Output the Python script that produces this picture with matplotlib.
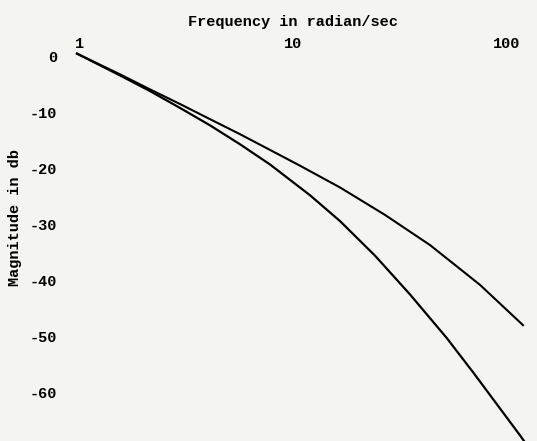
import matplotlib.pyplot as plt

# values
upper_w = [0.968, 1.54, 2.13, 2.94, 4.06, 5.62, 7.76, 10.7, 16.5, 26.8, 43.6, 74.7, 118.8]
upper_db = [0.6, -3.1, -5.8, -8.4, -11.1, -13.8, -16.6, -19.4, -23.3, -28.2, -33.6, -40.7, -47.9]
lower_w = [0.968, 1.54, 2.13, 2.94, 4.06, 5.62, 7.76, 11.95, 16.5, 24.1, 35.1, 52.2, 69.6, 115.1, 122.7]
lower_db = [0.6, -3.3, -6.1, -9.1, -12.2, -15.6, -19.2, -24.7, -29.3, -35.5, -42.4, -50.2, -56.4, -67.6, -69.1]
x_ticks = [1, 10, 100]
x_labels = ["1", "10", "100"]
y_ticks = [0, -10, -20, -30, -40, -50, -60]

bg = "#f4f4f1"
font = dict(family="Liberation Mono", weight="bold", size=11)

fig = plt.figure(figsize=(5.37, 4.41), dpi=100, facecolor=bg)
ax = fig.add_axes([60/537, 0, 477/537, (441-52)/441], facecolor=bg)

ax.plot(upper_w, upper_db, color="black", lw=1.5, solid_joinstyle="round")
ax.plot(lower_w, lower_db, color="black", lw=1.6, solid_joinstyle="round")

ax.set_xscale("log")
ax.set_xlim(0.806, 138.2)
ax.set_ylim(-68.6, 0.89)

ax.xaxis.tick_top()
ax.set_xticks(x_ticks)
ax.set_xticklabels(x_labels, **font)
ax.minorticks_off()
ax.set_yticks(y_ticks)
ax.set_yticklabels([str(v) for v in y_ticks], **font)
ax.tick_params(length=0, pad=2)
ax.tick_params(axis="x", pad=1)
for s in ax.spines.values():
    s.set_visible(False)

fig.text(293/537, 1 - 22/441, "Frequency in radian/sec", ha="center", va="center", **font)
fig.text(15/537, 1 - 218/441, "Magnitude in db", ha="center", va="center", rotation=90, **font)

fig.savefig("out.png", dpi=100, facecolor=bg)
